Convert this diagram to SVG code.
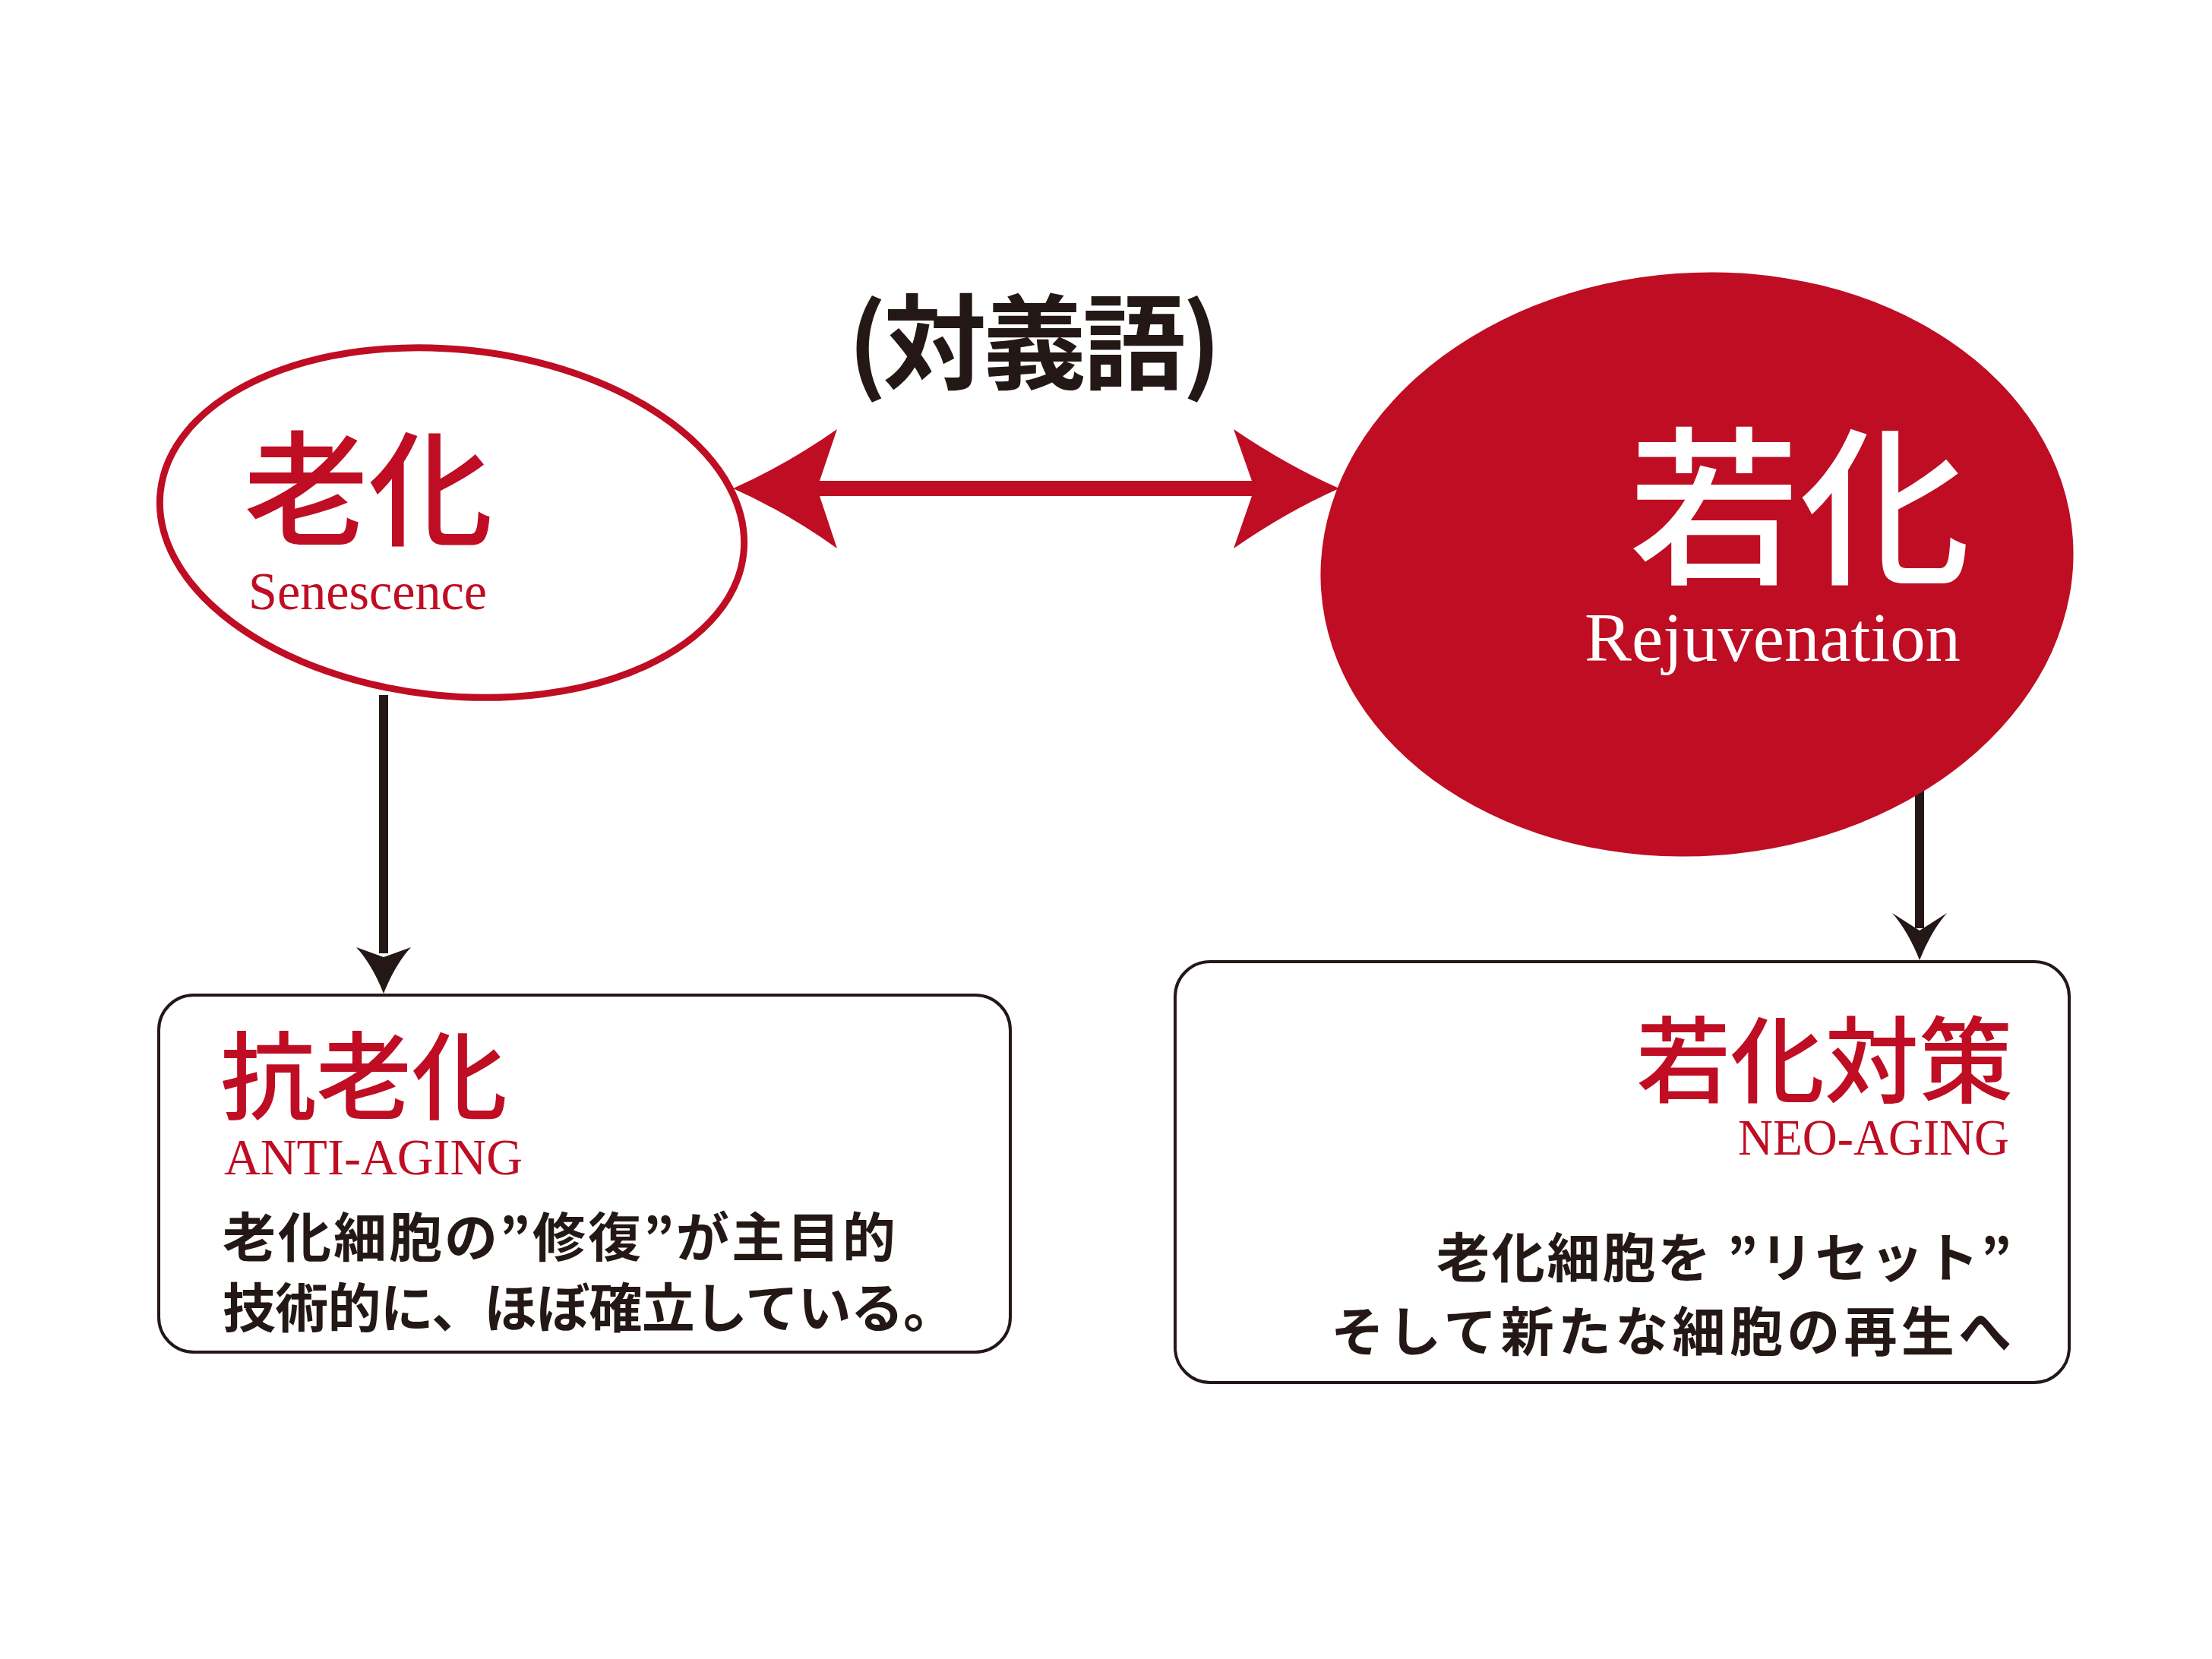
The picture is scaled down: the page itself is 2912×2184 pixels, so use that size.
<svg xmlns="http://www.w3.org/2000/svg" width="2912" height="2184" viewBox="0 0 2912 2184">
<defs>
<style>
.jp{font-family:"Noto Sans CJK JP","Noto Sans CJK SC",sans-serif;}
.lat{font-family:"Liberation Serif","Times New Roman",serif;}
.red{fill:#BF0D23;}
.ink{fill:#231815;}
.box{fill:#FFFFFF;stroke:#231815;stroke-width:4;}
.blk{stroke:#231815;stroke-width:12;fill:none;}
</style>
</defs>
<rect x="0" y="0" width="2912" height="2184" fill="#FFFFFF"/>

<g id="connectors">
  <!-- double red arrow -->
  <rect x="1076" y="633" width="575" height="20" fill="#BF0D23"/>
  <path d="M965,643 Q1035,612 1102,565 L1079,633 L1079,653 L1102,722 Q1035,674 965,643 Z" fill="#BF0D23"/>
  <path d="M1763,643 Q1693,612 1624,565 L1648,633 L1648,653 L1624,722 Q1693,674 1763,643 Z" fill="#BF0D23"/>
  <!-- left down arrow -->
  <line class="blk" x1="505" y1="915" x2="505" y2="1255"/>
  <path d="M505,1308 Q490,1270 469,1247 L505,1260 L541,1247 Q520,1270 505,1308 Z" fill="#231815"/>
  <!-- right down arrow -->
  <line class="blk" x1="2527" y1="1040" x2="2527" y2="1222"/>
  <path d="M2527,1264 Q2512,1226 2491,1202 L2527,1225 L2563,1202 Q2542,1226 2527,1264 Z" fill="#231815"/>
</g>

<g id="title">
  <text class="jp ink" x="1116" y="502" font-size="136" font-weight="700" textLength="492">(対義語)</text>
</g>

<g id="senescence">
  <ellipse cx="595" cy="688" rx="386" ry="228" transform="rotate(6 595 688)" fill="#FFFFFF" stroke="#BF0D23" stroke-width="9"/>
  <text class="jp red" x="321" y="705" font-size="164" font-weight="500">老化</text>
  <text class="lat red" x="327" y="802" font-size="70" textLength="314" lengthAdjust="spacingAndGlyphs">Senescence</text>
</g>

<g id="rejuvenation">
  <ellipse cx="2234" cy="743" rx="496" ry="384" transform="rotate(-4 2234 743)" fill="#BF0D23"/>
  <text class="jp" fill="#FFFFFF" x="2144" y="752" font-size="225" font-weight="500">若化</text>
  <text class="lat" fill="#FFFFFF" x="2086" y="870" font-size="92" textLength="495" lengthAdjust="spacingAndGlyphs">Rejuvenation</text>
</g>

<g id="anti-aging">
  <rect class="box" x="209" y="1310" width="1121" height="470" rx="46" ry="46"/>
  <text class="jp red" x="290" y="1464" font-size="126" font-weight="500">抗老化</text>
  <text class="lat red" x="295" y="1546" font-size="68" textLength="393" lengthAdjust="spacingAndGlyphs">ANTI-AGING</text>
  <text class="jp ink" x="293" y="1655" font-size="70" font-weight="700" textLength="886">老化細胞の”修復”が主目的</text>
  <text class="jp ink" x="293" y="1748" font-size="70" font-weight="700" textLength="966">技術的に、ほぼ確立している。</text>
</g>

<g id="neo-aging">
  <rect class="box" x="1547" y="1266" width="1177" height="554" rx="46" ry="46"/>
  <text class="jp red" x="2650" y="1442" font-size="124" font-weight="500" text-anchor="end">若化対策</text>
  <text class="lat red" x="2645" y="1520" font-size="68" text-anchor="end" textLength="357" lengthAdjust="spacingAndGlyphs">NEO-AGING</text>
  <text class="jp ink" x="2648" y="1682" font-size="70" font-weight="700" text-anchor="end" textLength="757">老化細胞を ”リセット”</text>
  <text class="jp ink" x="2648" y="1779" font-size="70" font-weight="700" text-anchor="end" textLength="896">そして新たな細胞の再生へ</text>
</g>
</svg>
